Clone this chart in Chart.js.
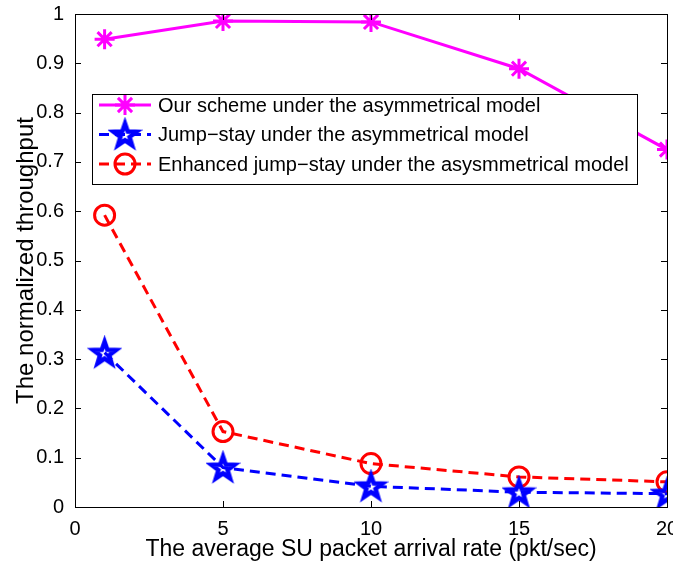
<!DOCTYPE html>
<html>
<head>
<meta charset="utf-8">
<script src="https://cdn.jsdelivr.net/npm/chart.js@4.4.1/dist/chart.umd.min.js"></script>
<style>
  html, body { margin: 0; padding: 0; background: #fff; }
  #wrap { width: 673px; height: 563px; }
</style>
</head>
<body>
<div id="wrap"><canvas id="thrChart" width="673" height="563"></canvas></div>
<script>
// data
const arrivalRates = [1, 5, 10, 15, 20];
const ourScheme = [0.949, 0.986, 0.984, 0.889, 0.725];
const jumpStay = [0.313, 0.080, 0.042, 0.030, 0.027];
const enhancedJumpStay = [0.592, 0.153, 0.088, 0.061, 0.051];
const seriesNames = [
  'Our scheme under the asymmetrical model',
  'Jump\u2212stay under the asymmetrical model',
  'Enhanced jump\u2212stay under the asysmmetrical model'
];
const xTicks = [0, 5, 10, 15, 20];
const yTicks = [0, 0.1, 0.2, 0.3, 0.4, 0.5, 0.6, 0.7, 0.8, 0.9, 1];

const FONT = '"Liberation Sans", Arial, Helvetica, sans-serif';

// hollow pentagram marker (matlab 'p')
function makePentagram(rOut, color, lw) {
  const size = Math.ceil(rOut * 2 + lw * 2 + 2);
  const c = document.createElement('canvas');
  c.width = size; c.height = size;
  const g = c.getContext('2d');
  const cx = size / 2, cy = size / 2 + 1;
  const rIn = rOut * 0.40;
  g.beginPath();
  for (let i = 0; i < 10; i++) {
    const r = i % 2 === 0 ? rOut : rIn;
    const a = -Math.PI / 2 + i * Math.PI / 5;
    const px = cx + r * Math.cos(a), py = cy + r * Math.sin(a);
    if (i === 0) g.moveTo(px, py); else g.lineTo(px, py);
  }
  g.closePath();
  g.lineJoin = 'miter';
  g.lineWidth = lw;
  g.strokeStyle = color;
  g.stroke();
  return c;
}
const starImg = makePentagram(12, '#0000ff', 4.5);

function toPoints(xs, ys) {
  return xs.map((x, i) => ({ x: x, y: ys[i] }));
}

// matlab style box with inward ticks
const boxPlugin = {
  id: 'boxTicks',
  afterDraw(chart) {
    const ctx = chart.ctx;
    const a = chart.chartArea;
    const xs = chart.scales.x, ys = chart.scales.y;
    ctx.save();
    ctx.strokeStyle = '#000';
    ctx.lineWidth = 1;
    ctx.strokeRect(Math.round(a.left) + 0.5, Math.round(a.top) + 0.5,
      Math.round(a.right - a.left), Math.round(a.bottom - a.top));
    ctx.beginPath();
    const tl = 6;
    xTicks.forEach(v => {
      const px = Math.round(xs.getPixelForValue(v)) + 0.5;
      ctx.moveTo(px, a.bottom); ctx.lineTo(px, a.bottom - tl);
      ctx.moveTo(px, a.top); ctx.lineTo(px, a.top + tl);
    });
    yTicks.forEach(v => {
      const py = Math.round(ys.getPixelForValue(v)) + 0.5;
      ctx.moveTo(a.left, py); ctx.lineTo(a.left + tl, py);
      ctx.moveTo(a.right, py); ctx.lineTo(a.right - tl, py);
    });
    ctx.stroke();
    ctx.restore();
  }
};

// legend box inside the axes, upper left
const legendPlugin = {
  id: 'boxLegend',
  afterDatasetsDraw(chart) {
    const ctx = chart.ctx;
    const a = chart.chartArea;
    const bx = a.left + 17, by = a.top + 80, bw = 545, bh = 90;
    const rowH = 29.5;
    ctx.save();
    ctx.fillStyle = '#fff';
    ctx.fillRect(bx, by, bw, bh);
    ctx.strokeStyle = '#000';
    ctx.lineWidth = 1;
    ctx.strokeRect(Math.round(bx) + 0.5, Math.round(by) + 0.5, bw, bh);
    chart.data.datasets.forEach((ds, i) => {
      const y = by + 11 + i * rowH;
      const x0 = bx + 7, x1 = bx + 59, xm = (x0 + x1) / 2;
      ctx.beginPath();
      ctx.strokeStyle = ds.borderColor;
      ctx.lineWidth = ds.borderWidth;
      ctx.setLineDash(ds.borderDash || []);
      ctx.moveTo(x0, y); ctx.lineTo(x1, y);
      ctx.stroke();
      ctx.setLineDash([]);
      const st = ds.pointStyle;
      ctx.strokeStyle = ds.pointBorderColor;
      ctx.lineWidth = ds.pointBorderWidth;
      if (st === 'star') {
        const r = ds.pointRadius;
        ctx.beginPath();
        for (let k = 0; k < 4; k++) {
          const ang = k * Math.PI / 4;
          ctx.moveTo(xm - r * Math.cos(ang), y - r * Math.sin(ang));
          ctx.lineTo(xm + r * Math.cos(ang), y + r * Math.sin(ang));
        }
        ctx.stroke();
      } else if (st === 'circle') {
        ctx.beginPath();
        ctx.arc(xm, y, ds.pointRadius, 0, Math.PI * 2);
        ctx.stroke();
      } else {
        ctx.drawImage(st, xm - st.width / 2, y - st.height / 2);
      }
      ctx.fillStyle = '#000';
      ctx.font = '20px ' + FONT;
      ctx.textBaseline = 'middle';
      ctx.textAlign = 'left';
      ctx.fillText(seriesNames[i], bx + 66, y + 1);
    });
    ctx.restore();
  }
};

const ctx = document.getElementById('thrChart').getContext('2d');
const thrChart = new Chart(ctx, {
  type: 'line',
  data: {
    datasets: [{
      label: seriesNames[0],
      data: toPoints(arrivalRates, ourScheme),
      borderColor: '#ff00ff',
      borderWidth: 3,
      fill: false,
      pointStyle: 'star',
      pointRadius: 10,
      pointBorderColor: '#ff00ff',
      pointBorderWidth: 3,
      pointBackgroundColor: '#ff00ff'
    }, {
      label: seriesNames[1],
      data: toPoints(arrivalRates, jumpStay),
      borderColor: '#0000ff',
      borderWidth: 3,
      borderDash: [10, 6],
      fill: false,
      pointStyle: starImg,
      pointRadius: 12,
      pointBorderColor: '#0000ff',
      pointBorderWidth: 3
    }, {
      label: seriesNames[2],
      data: toPoints(arrivalRates, enhancedJumpStay),
      borderColor: '#ff0000',
      borderWidth: 3,
      borderDash: [10, 6],
      fill: false,
      pointStyle: 'circle',
      pointRadius: 10,
      pointBorderColor: '#ff0000',
      pointBorderWidth: 3,
      pointBackgroundColor: 'rgba(0,0,0,0)'
    }]
  },
  options: {
    responsive: false,
    animation: false,
    layout: { autoPadding: false, padding: { top: 14, right: 6, left: 0, bottom: 0 } },
    plugins: {
      legend: { display: false },
      tooltip: { enabled: false }
    },
    elements: { line: { tension: 0 } },
    scales: {
      x: {
        type: 'linear',
        min: 0,
        max: 20,
        afterBuildTicks: s => { s.ticks = xTicks.map(v => ({ value: v })); },
        afterFit: s => { s.height = 56; s.paddingLeft = 0; s.paddingRight = 0; },
        grid: { display: false },
        border: { display: false },
        ticks: {
          color: '#000',
          padding: 2,
          maxRotation: 0,
          font: { family: FONT, size: 20 }
        },
        title: {
          display: true,
          text: 'The average SU packet arrival rate (pkt/sec)',
          color: '#000',
          font: { family: FONT, size: 23 },
          padding: { top: 0, bottom: 0 }
        }
      },
      y: {
        type: 'linear',
        min: 0,
        max: 1,
        afterBuildTicks: s => { s.ticks = yTicks.map(v => ({ value: v })); },
        afterFit: s => { s.width = 75; s.paddingTop = 0; s.paddingBottom = 0; },
        grid: { display: false },
        border: { display: false },
        ticks: {
          color: '#000',
          padding: 3,
          font: { family: FONT, size: 20 },
          callback: v => String(Math.round(v * 10) / 10)
        },
        title: {
          display: true,
          text: 'The normalized throughput',
          color: '#000',
          font: { family: FONT, size: 24 },
          padding: { top: 12, bottom: 0 }
        }
      }
    }
  },
  plugins: [boxPlugin, legendPlugin]
});
</script>
</body>
</html>
